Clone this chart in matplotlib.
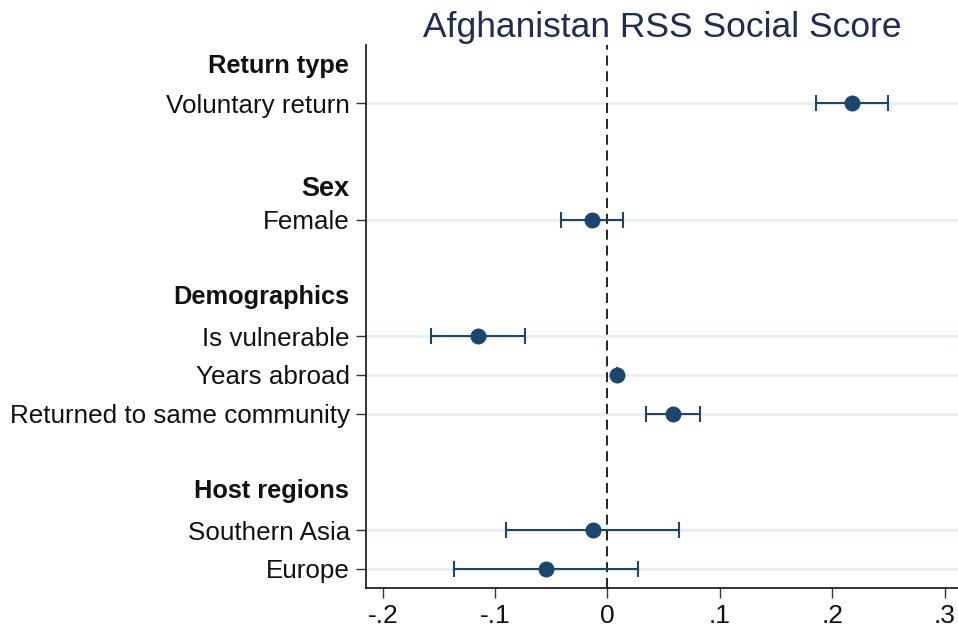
import matplotlib
matplotlib.use("Agg")
import matplotlib.pyplot as plt
import matplotlib.transforms as mtransforms

plt.rcParams["font.family"] = ["Liberation Sans", "DejaVu Sans"]

# Coefficient estimates with 95% confidence intervals
groups = ["Return type", "Sex", "Demographics", "Host regions"]
group_items = [
    ["Voluntary return"],
    ["Female"],
    ["Is vulnerable", "Years abroad", "Returned to same community"],
    ["Southern Asia", "Europe"],
]
estimates = [0.218, -0.014, -0.115, 0.0086, 0.058, -0.013, -0.055]
ci_low = [0.186, -0.041, -0.1575, 0.0086, 0.034, -0.0905, -0.137]
ci_high = [0.2495, 0.014, -0.073, 0.0086, 0.082, 0.064, 0.0275]
xtick_values = [-0.2, -0.1, 0.0, 0.1, 0.2, 0.3]
xtick_labels = ["-.2", "-.1", "0", ".1", ".2", ".3"]
title = "Afghanistan RSS Social Score"

navy = "#1a476f"
grid_col = "#e6eff1"

fig = plt.figure(figsize=(9.58, 6.29), dpi=100)
ax = fig.add_axes([0.382, 0.0647, 0.618, 0.8638])

# Build row positions: a heading row, its items, then a blank row
item_rows, item_names, head_rows = [], [], []
row = 0
for g, items in zip(groups, group_items):
    head_rows.append(row)
    row += 1
    for it in items:
        item_rows.append(row)
        item_names.append(it)
        row += 1
    row += 1

for y in item_rows:
    ax.axhline(y, color=grid_col, lw=2.0, zorder=0)

ax.axvline(0, color="black", lw=1.2, ls=(0, (6, 3.5)), zorder=1)

xerr = [[e - lo for e, lo in zip(estimates, ci_low)],
        [hi - e for e, hi in zip(estimates, ci_high)]]
ax.errorbar(estimates, item_rows, xerr=xerr, fmt="o", color=navy,
            ms=10.5, elinewidth=1.5, capsize=5.5, capthick=1.5, zorder=3)

ax.set_xlim(-0.215, 0.312)
ax.set_ylim(13.5, -0.5)

ax.set_yticks(item_rows)
ax.set_yticklabels(item_names, fontsize=18.7, color="#111111")
ax.set_xticks(xtick_values)
ax.set_xticklabels(xtick_labels, fontsize=19, color="#111111")
ax.tick_params(axis="both", length=7.5, width=1.0, color="#333333", pad=4)

for s in ["top", "right"]:
    ax.spines[s].set_visible(False)
for s in ["left", "bottom"]:
    ax.spines[s].set_linewidth(1.2)
    ax.spines[s].set_color("#111111")

# Group headings, right-aligned with the tick labels
trans = mtransforms.blended_transform_factory(ax.transAxes, ax.transData)
head_shift = [0.05, 0.2, 0.0, 0.0]
head_size = [18.3, 19.5, 18.3, 18.3]
for g, r, d, fs in zip(groups, head_rows, head_shift, head_size):
    ax.annotate(g, xy=(0, r + d), xycoords=trans, xytext=(-12, 0),
                textcoords="offset points", ha="right", va="center",
                fontsize=fs, fontweight="bold", color="#111111")

fig.text((0.382 + 1.0) / 2, 0.957, title, ha="center", va="center",
         fontsize=25.5, color="#1e2d55")

fig.savefig("out.png", dpi=100)
